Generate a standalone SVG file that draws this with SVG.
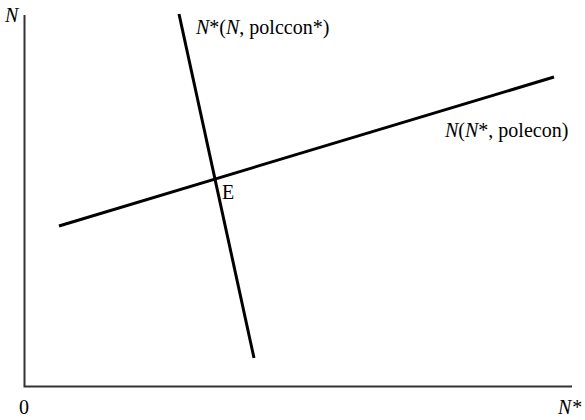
<svg xmlns="http://www.w3.org/2000/svg" width="585" height="420" viewBox="0 0 585 420">
<defs>
<style>
.axis{stroke:#333;stroke-width:2;fill:none}
.curve{stroke:#000;stroke-width:3;fill:none}
.lbl{font-family:"Liberation Serif","Times New Roman",serif;font-size:20px;fill:#000}
.it{font-style:italic}
</style>
</defs>
<rect width="585" height="420" fill="#fff"/>
<g id="axes">
<path class="axis" d="M24.5,15 V386.5 H572"/>
<text class="lbl it" x="5" y="22" style="font-family:'Liberation Serif',serif">N</text>
<text class="lbl" x="19" y="414" style="font-family:'Liberation Serif',serif">0</text>
<text class="lbl it" x="558" y="414" style="font-family:'Liberation Serif',serif">N*</text>
</g>
<g id="connectors">
<line id="curve-N" class="curve" x1="59" y1="226" x2="554" y2="77"/>
<line id="curve-Nstar" class="curve" x1="179" y1="14" x2="254" y2="358"/>
</g>
<g id="label-Nstar"><text class="lbl" x="196" y="34" style="font-family:'Liberation Serif',serif"><tspan class="it">N</tspan>*(<tspan class="it">N</tspan>, polccon*)</text></g>
<g id="label-N"><text class="lbl" x="445" y="137" style="font-family:'Liberation Serif',serif"><tspan class="it">N</tspan>(<tspan class="it">N</tspan>*, polecon)</text></g>
<g id="E"><text class="lbl" x="222" y="199" style="font-family:'Liberation Serif',serif">E</text></g>
</svg>
